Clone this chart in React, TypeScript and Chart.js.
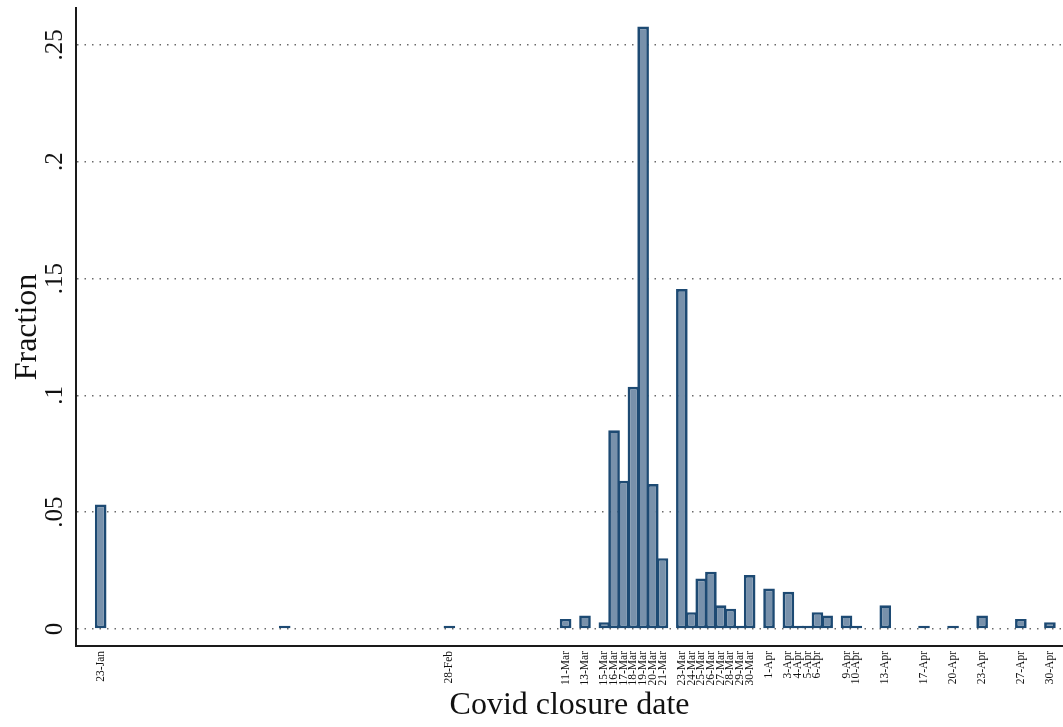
import React, { useEffect, useRef } from "react";
import { Chart, registerables } from "chart.js";

Chart.register(...registerables);

// ---- Data ----
const closureDates = [
  "23-Jan", "11-Feb", "28-Feb", "11-Mar", "13-Mar", "15-Mar", "16-Mar", "17-Mar",
  "18-Mar", "19-Mar", "20-Mar", "21-Mar", "23-Mar", "24-Mar", "25-Mar", "26-Mar",
  "27-Mar", "28-Mar", "29-Mar", "30-Mar", "1-Apr", "3-Apr", "4-Apr", "5-Apr",
  "6-Apr", "7-Apr", "9-Apr", "10-Apr", "13-Apr", "17-Apr", "20-Apr", "23-Apr",
  "27-Apr", "30-Apr",
];

const fractions = [
  0.0533, 0.0014, 0.0014, 0.0043, 0.0058, 0.0029, 0.085, 0.0634,
  0.1037, 0.2579, 0.062, 0.0303, 0.1455, 0.0072, 0.0216, 0.0245,
  0.0101, 0.0086, 0.0014, 0.0231, 0.0173, 0.0159, 0.0014, 0.0014,
  0.0072, 0.0058, 0.0058, 0.0014, 0.0101, 0.0014, 0.0014, 0.0058,
  0.0043, 0.0029,
];

const xTickDates = [
  "23-Jan", "28-Feb", "11-Mar", "13-Mar", "15-Mar", "16-Mar", "17-Mar", "18-Mar",
  "19-Mar", "20-Mar", "21-Mar", "23-Mar", "24-Mar", "25-Mar", "26-Mar", "27-Mar",
  "28-Mar", "29-Mar", "30-Mar", "1-Apr", "3-Apr", "4-Apr", "5-Apr", "6-Apr",
  "9-Apr", "10-Apr", "13-Apr", "17-Apr", "20-Apr", "23-Apr", "27-Apr", "30-Apr",
];

const yTickValues = [0, 0.05, 0.1, 0.15, 0.2, 0.25];
const yTickLabels = ["0", ".05", ".1", ".15", ".2", ".25"];

const xRange = { min: -2.55, max: 99.35 };
const yRange = { min: -0.0073, max: 0.2658 };

// ---- helpers ----
const monthStart: Record<string, number> = { Jan: 0, Feb: 31, Mar: 60, Apr: 91 }; // 2020
const dayIndex = (label: string): number => {
  const [d, m] = label.split("-");
  return monthStart[m] + parseInt(d, 10) - 23; // 0 = 23-Jan
};

const SERIF = "'Liberation Serif', 'Times New Roman', serif";

export default function App() {
  const canvasRef = useRef<HTMLCanvasElement | null>(null);

  useEffect(() => {
    const canvas = canvasRef.current;
    if (!canvas) return;

    const tickLabelByDay = new Map<number, string>();
    xTickDates.forEach((d) => tickLabelByDay.set(dayIndex(d), d));

    const chart = new Chart(canvas, {
      type: "bar",
      data: {
        datasets: [
          {
            label: "Fraction",
            data: closureDates.map((d, i) => ({ x: dayIndex(d), y: fractions[i] })),
            backgroundColor: "#7891ab",
            borderColor: "#1d4a73",
            borderWidth: 2.7,
            borderSkipped: false,
            barPercentage: 1.2,
            categoryPercentage: 1,
          },
        ],
      },
      options: {
        responsive: false,
        animation: false,
        layout: { padding: { top: 8, right: 0, left: 0, bottom: 0 } },
        plugins: {
          legend: { display: false },
          tooltip: { enabled: false },
        },
        scales: {
          x: {
            type: "linear",
            offset: false,
            min: xRange.min,
            max: xRange.max,
            grid: { display: false, drawTicks: false, offset: false },
            border: { display: true, color: "#1a1a1a", width: 2 },
            afterBuildTicks: (scale: any) => {
              scale.ticks = xTickDates.map((d) => ({ value: dayIndex(d) }));
            },
            afterFit: (scale: any) => {
              scale.height = 81;
              scale.paddingLeft = 0;
              scale.paddingRight = 0;
            },
            ticks: {
              autoSkip: false,
              maxRotation: 90,
              minRotation: 90,
              padding: 5,
              color: "#111",
              font: { family: SERIF, size: 11.5 },
              callback: (value: any) => tickLabelByDay.get(Number(value)) ?? "",
            },
            title: {
              display: true,
              text: "Covid closure date",
              color: "#111",
              font: { family: SERIF, size: 32 },
              padding: { top: 0, bottom: 2 },
            },
          },
          y: {
            type: "linear",
            min: yRange.min,
            max: yRange.max,
            grid: { display: true, drawTicks: false, color: "#6a6a6a", lineWidth: 1.5 },
            border: { display: true, color: "#1a1a1a", width: 2, dash: [1.5, 6] },
            afterBuildTicks: (scale: any) => {
              scale.ticks = yTickValues.map((v) => ({ value: v }));
            },
            afterFit: (scale: any) => {
              scale.width = 76;
              scale.paddingTop = 0;
              scale.paddingBottom = 0;
            },
            ticks: {
              minRotation: 90,
              maxRotation: 90,
              crossAlign: "center",
              padding: 5,
              color: "#111",
              font: { family: SERIF, size: 25 },
              callback: (_v: any, index: number) => yTickLabels[index] ?? "",
            },
            title: {
              display: true,
              text: "Fraction",
              color: "#111",
              font: { family: SERIF, size: 32 },
              padding: { top: 8, bottom: 0 },
            },
          },
        },
      },
    } as any);

    return () => chart.destroy();
  }, []);

  return (
    <div style={{ position: "fixed", left: 0, top: 0, width: 1063, height: 727, background: "#fff" }}>
      <canvas ref={canvasRef} width={1063} height={727} style={{ display: "block" }} />
    </div>
  );
}
